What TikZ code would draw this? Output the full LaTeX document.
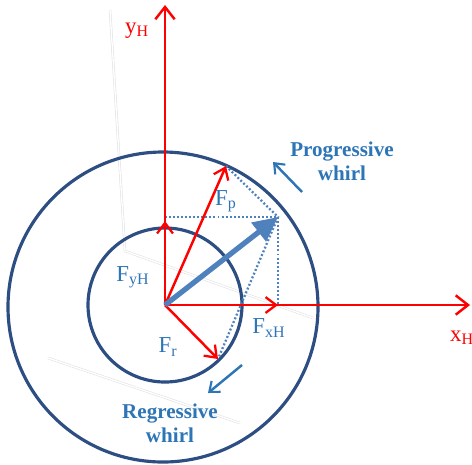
\documentclass[tikz,border=0pt]{standalone}
\usepackage{fontspec}
\setmainfont{Liberation Serif}
\usetikzlibrary{arrows.meta}

\definecolor{ringblue}{RGB}{44,78,130}
\definecolor{textblue}{RGB}{46,117,182}
\definecolor{forceblue}{RGB}{79,129,189}

\begin{document}
\begin{tikzpicture}[
    x=0.02cm, y=-0.02cm,
    ring/.style={draw=ringblue, line width=1.8pt},
    axis/.style={-{Straight Barb[length=7pt, width=11pt, line width=1.4pt]}, red, line width=1.6pt},
    force/.style={-{Straight Barb[length=6pt, width=9pt, line width=1.3pt]}, red, line width=1.4pt},
    comp/.style={dash pattern=on 1.1pt off 1.2pt, forceblue, line width=1.3pt},
    ghost/.style={gray!25, line width=0.3pt, double, double distance=0.8pt},
    whirl/.style={-{Straight Barb[length=5pt, width=8pt, line width=1.2pt]}, textblue, line width=1.4pt},
    flabel/.style={text=textblue, font=\fontsize{13}{13}\selectfont, inner sep=1pt},
    wlabel/.style={text=textblue, font=\fontsize{12}{13.5}\selectfont\bfseries, align=center, inner sep=1pt}
]
\useasboundingbox (0,0) rectangle (472,464);

% points
\coordinate (O) at (165,305);
\coordinate (ytop) at (165,5);
\coordinate (xend) at (470,305);
\coordinate (fy) at (165,221);
\coordinate (fx) at (278,305);
\coordinate (fp) at (226,166);
\coordinate (fr) at (218,359);
\coordinate (f) at (278,217);
\coordinate (fyl) at (165,217);
\coordinate (g1) at (110,10);
\coordinate (g2) at (125,251);
\coordinate (g3) at (313,318);
\coordinate (g4) at (48,358);
\coordinate (g5) at (240,423);
\coordinate (pa) at (302,192);
\coordinate (pb) at (273,162);
\coordinate (ra) at (242,365);
\coordinate (rb) at (208,393);

% faint guide lines
\draw[ghost] (g1) -- (g2) -- (g3);
\draw[ghost] (g4) -- (g5);

% rings
\draw[ring] (163,307) circle[radius=155];
\draw[ring] (O) circle[radius=77];

% components
\draw[comp] (fyl) -- (f) -- (fx);
\draw[comp] (fp) -- (f) -- (fr);

% axes and forces
\draw[axis] (O) -- (ytop);
\draw[axis] (O) -- (xend);
\draw[force] (O) -- (fy);
\draw[force] (O) -- (fx);
\draw[force] (O) -- (fp);
\draw[force] (O) -- (fr);
\draw[forceblue, line width=3pt, -{Triangle[length=14pt, width=13pt]}] (O) -- (f);

% whirl arrows
\draw[whirl] (pa) -- (pb);
\draw[whirl] (ra) -- (rb);

% labels
\node[text=red, font=\fontsize{13}{13}\selectfont] (ylab) at (137,31) {y\textsubscript{H}};
\node[text=red, font=\fontsize{13}{13}\selectfont] (xlab) at (462,338) {x\textsubscript{H}};
\node[flabel] (fylab) at (133,277) {F\textsubscript{yH}};
\node[flabel] (fxlab) at (269,328) {F\textsubscript{xH}};
\node[flabel] (fplab) at (226,201) {F\textsubscript{p}};
\node[flabel] (frlab) at (168,347) {F\textsubscript{r}};
\node[wlabel] (prog) at (342,161) {Progressive\\whirl};
\node[wlabel] (regr) at (170,423) {Regressive\\whirl};
\end{tikzpicture}
\end{document}
